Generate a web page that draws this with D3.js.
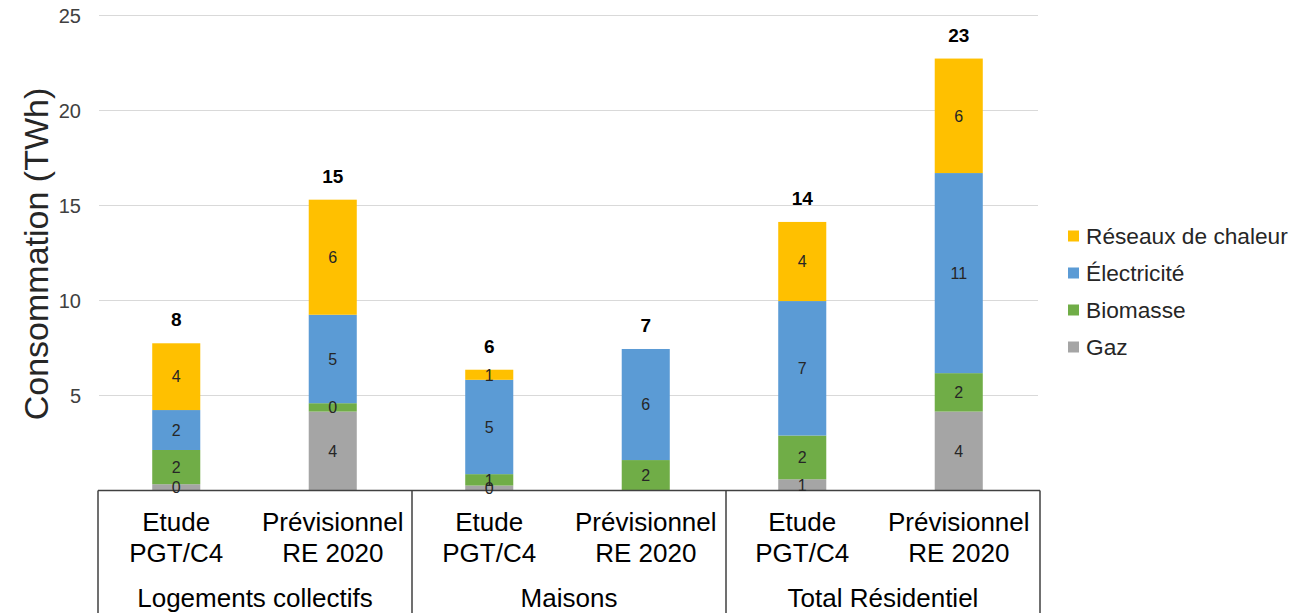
<!DOCTYPE html>
<html>
<head>
<meta charset="utf-8">
<script src="https://cdn.jsdelivr.net/npm/d3@7"></script>
<style>
  html, body { margin: 0; padding: 0; background: #fff; }
  svg { display: block; font-family: "Liberation Sans", Arial, sans-serif; }
</style>
</head>
<body>
<svg id="chart" width="1314" height="613"></svg>
<script>
// Groups and sub-categories on the horizontal axis
const groups = ["Logements collectifs", "Maisons", "Total Résidentiel"];
const subLabels = [["Etude", "PGT/C4"], ["Prévisionnel", "RE 2020"]];

// Consumption per energy (TWh), one value per bar (group × sub-category)
const gaz         = [0.33, 4.15, 0.26, 0,    0.59, 4.15];
const biomasse    = [1.8,  0.44, 0.6,  1.6,  2.3,  2.02];
const electricite = [2.1,  4.65, 4.96, 5.84, 7.07, 10.52];
const reseaux     = [3.51, 6.05, 0.53, 0,    4.16, 6.02];

const seriesNames  = ["Gaz", "Biomasse", "Électricité", "Réseaux de chaleur"];
const seriesColors = ["#A5A5A5", "#70AD47", "#5B9BD5", "#FFC000"];
const yTicks = [5, 10, 15, 20, 25];

const seriesValues = [gaz, biomasse, electricite, reseaux];
const barKeys = [];
groups.forEach((g, gi) => subLabels.forEach((s, si) => barKeys.push(gi * 2 + si)));

const rows = barKeys.map(i => {
  const r = { key: i };
  seriesNames.forEach((n, k) => r[n] = seriesValues[k][i]);
  r.total = d3.sum(seriesValues, v => v[i]);
  return r;
});

const svg = d3.select("#chart");
const plotLeft = 98, plotRight = 1037, plotBase = 490.5, plotTop = 15;

const x = d3.scaleBand().domain(barKeys).range([plotLeft, plotRight])
  .paddingInner(0.693).paddingOuter(0.3465);
const y = d3.scaleLinear().domain([0, 25]).range([plotBase, plotTop]);

// Horizontal gridlines
svg.append("g").selectAll("line").data(yTicks).join("line")
  .attr("x1", plotLeft + 1).attr("x2", plotRight + 1)
  .attr("y1", d => Math.round(y(d)) + 0.5).attr("y2", d => Math.round(y(d)) + 0.5)
  .attr("stroke", "#D9D9D9").attr("stroke-width", 1);

// Y axis tick labels (no axis line)
const yAxis = d3.axisLeft(y).tickValues(yTicks).tickSize(0).tickPadding(0);
const yg = svg.append("g").attr("transform", `translate(81,0)`).call(yAxis);
yg.select(".domain").remove();
yg.selectAll("text")
  .attr("font-family", "Liberation Sans, Arial, sans-serif")
  .attr("font-size", 20).attr("fill", "#404040").attr("dy", "0.35em");

// Y axis title
svg.append("text")
  .attr("transform", "translate(48,254) rotate(-90)")
  .attr("text-anchor", "middle")
  .attr("font-size", 34).attr("fill", "#262626")
  .text("Consommation (TWh)");

// Stacked bars
const stack = d3.stack().keys(seriesNames)(rows);
const layers = svg.append("g").selectAll("g").data(stack).join("g")
  .attr("fill", (d, i) => seriesColors[i]);
layers.selectAll("rect").data(d => d).join("rect")
  .attr("x", d => x(d.data.key))
  .attr("width", x.bandwidth())
  .attr("y", d => y(d[1]))
  .attr("height", d => y(d[0]) - y(d[1]));

// Category box (axis line + group separators)
const boxG = svg.append("g").attr("stroke", "#404040").attr("stroke-width", 1.5).attr("fill", "none");
boxG.append("line").attr("x1", plotLeft).attr("x2", plotRight + 3).attr("y1", plotBase).attr("y2", plotBase);
const groupEdges = d3.range(groups.length + 1).map(i => plotLeft + (plotRight + 3 - plotLeft) * i / groups.length);
boxG.selectAll("line.sep").data(groupEdges).join("line").attr("class", "sep")
  .attr("x1", d => d).attr("x2", d => d).attr("y1", plotBase).attr("y2", 613);

// Segment value labels
const labelLayer = svg.append("g");
stack.forEach(layer => {
  labelLayer.append("g").selectAll("text").data(layer.filter(d => d[1] - d[0] > 0)).join("text")
    .attr("x", d => x(d.data.key) + x.bandwidth() / 2)
    .attr("y", d => (y(d[0]) + y(d[1])) / 2)
    .attr("dy", "0.36em")
    .attr("text-anchor", "middle")
    .attr("font-size", 16).attr("fill", "#262626")
    .text(d => Math.round(d[1] - d[0]));
});

// Totals above bars
svg.append("g").selectAll("text").data(rows).join("text")
  .attr("x", d => x(d.key) + x.bandwidth() / 2)
  .attr("y", d => y(d.total) - 17)
  .attr("text-anchor", "middle")
  .attr("font-size", 19).attr("font-weight", "bold").attr("fill", "#000")
  .text(d => Math.round(d.total));

// Sub-category labels (two lines)
const sub = svg.append("g").selectAll("text").data(rows).join("text")
  .attr("text-anchor", "middle").attr("font-size", 26).attr("fill", "#000");
sub.append("tspan").attr("x", d => x(d.key) + x.bandwidth() / 2).attr("y", 531)
  .text(d => subLabels[d.key % 2][0]);
sub.append("tspan").attr("x", d => x(d.key) + x.bandwidth() / 2).attr("y", 562)
  .text(d => subLabels[d.key % 2][1]);

// Group labels
svg.append("g").selectAll("text").data(groups).join("text")
  .attr("x", (d, i) => (groupEdges[i] + groupEdges[i + 1]) / 2)
  .attr("y", 607)
  .attr("text-anchor", "middle").attr("font-size", 26).attr("fill", "#000")
  .text(d => d);

// Legend (top entry = last stacked series)
const legendItems = seriesNames.map((n, i) => ({ name: n, color: seriesColors[i] })).reverse();
const lg = svg.append("g").selectAll("g").data(legendItems).join("g")
  .attr("transform", (d, i) => `translate(1068,${236 + i * 37})`);
lg.append("rect").attr("x", 0).attr("y", -5.5).attr("width", 11).attr("height", 11)
  .attr("fill", d => d.color);
lg.append("text").attr("x", 18).attr("dy", "0.35em")
  .attr("font-size", 22.7).attr("fill", "#262626")
  .text(d => d.name);
</script>
</body>
</html>
